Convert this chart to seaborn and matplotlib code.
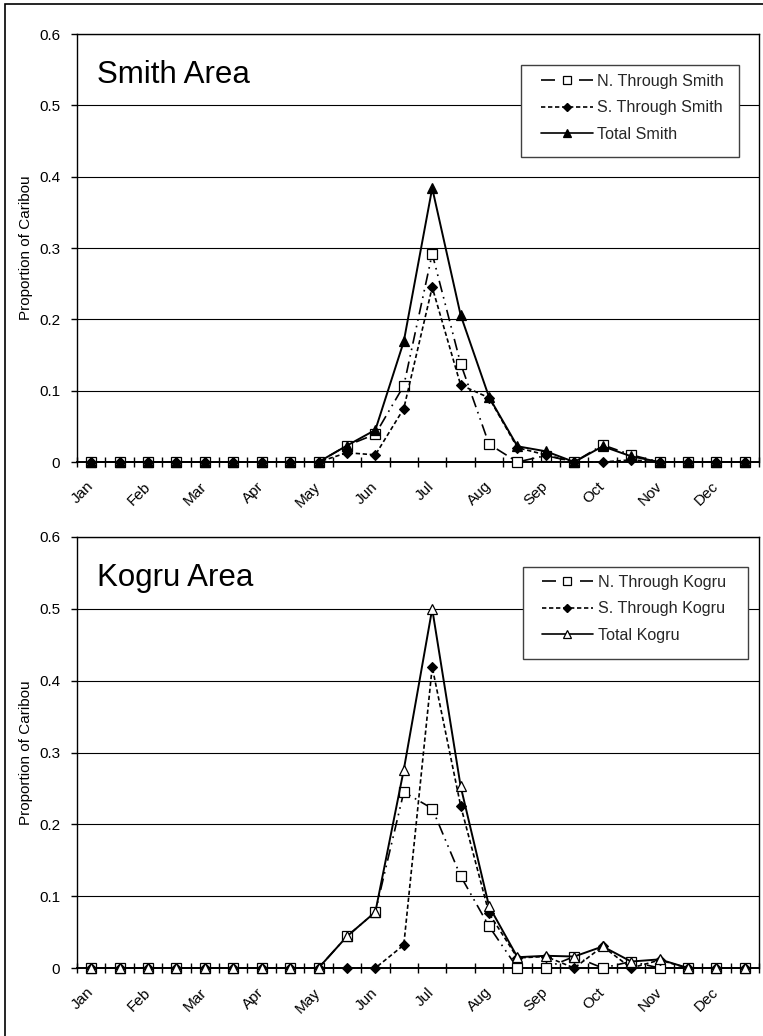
import numpy as np
import matplotlib
matplotlib.use("Agg")
import matplotlib.pyplot as plt
from matplotlib.lines import Line2D
from matplotlib.patches import Rectangle
import seaborn as sns

# ---------------- data ----------------
months = ['Jan', 'Feb', 'Mar', 'Apr', 'May', 'Jun', 'Jul', 'Aug', 'Sep', 'Oct', 'Nov', 'Dec']
periods = np.arange(24)  # half-month periods, Jan (1st half) .. Dec (2nd half)

smith_north = [0, 0, 0, 0, 0, 0, 0, 0, 0, 0.023, 0.039, 0.107, 0.292, 0.138, 0.025, 0,
               0.009, 0, 0.024, 0.010, 0, 0, 0, 0]
smith_south = [0, 0, 0, 0, 0, 0, 0, 0, 0, 0.013, 0.010, 0.075, 0.245, 0.108, 0.090, 0.020,
               0.010, 0, 0, 0.003, 0, 0, 0, 0]
smith_total = [0, 0, 0, 0, 0, 0, 0, 0, 0, 0.023, 0.045, 0.169, 0.384, 0.206, 0.091, 0.022,
               0.015, 0, 0.022, 0.008, 0, 0, 0, 0]

kogru_north = [0, 0, 0, 0, 0, 0, 0, 0, 0, 0.044, 0.078, 0.245, 0.222, 0.128, 0.058, 0,
               0, 0.016, 0, 0.009, 0, 0, 0, 0]
kogru_south = [0, 0, 0, 0, 0, 0, 0, 0, 0, 0, 0, 0.032, 0.419, 0.226, 0.076, 0.014,
               0.016, 0, 0.030, 0, 0.011, 0, 0, 0]
kogru_total = [0, 0, 0, 0, 0, 0, 0, 0, 0, 0.044, 0.078, 0.276, 0.500, 0.253, 0.086, 0.015,
               0.017, 0.016, 0.030, 0.009, 0.012, 0, 0, 0]

y_ticks = [0, 0.1, 0.2, 0.3, 0.4, 0.5, 0.6]
y_tick_labels = ['0', '0.1', '0.2', '0.3', '0.4', '0.5', '0.6']

# ---------------- style ----------------
sns.set_style("white")
plt.rcParams['font.family'] = ['Liberation Sans', 'DejaVu Sans']

W, H = 763, 1036
fig = plt.figure(figsize=(W / 100, H / 100), dpi=100)
fig.patch.set_facecolor('white')


def px_axes(left, top, right, bottom):
    return [left / W, 1 - bottom / H, (right - left) / W, (bottom - top) / H]


ax1 = fig.add_axes(px_axes(77, 34, 759, 462))
ax2 = fig.add_axes(px_axes(77, 537, 759, 968))

LW = 1.2
N_STYLE = (0, (7, 3, 1, 3, 1, 3))
S_STYLE = (0, (2.6, 1.6))


def draw(ax, north, south, total, names, total_face, title, box, anchor):
    sns.lineplot(x=periods, y=north, ax=ax, color='black', linewidth=LW,
                 linestyle=N_STYLE, marker='s', markersize=7,
                 markerfacecolor='white', markeredgecolor='black',
                 markeredgewidth=0.9, clip_on=False, zorder=3, errorbar=None)
    sns.lineplot(x=periods, y=south, ax=ax, color='black', linewidth=LW,
                 linestyle=S_STYLE, marker='D', markersize=5,
                 markerfacecolor='black', markeredgecolor='black',
                 markeredgewidth=0.8, clip_on=False, zorder=4, errorbar=None)
    sns.lineplot(x=periods, y=total, ax=ax, color='black', linewidth=LW + 0.2,
                 linestyle='-', marker='^', markersize=7.5,
                 markerfacecolor=total_face, markeredgecolor='black',
                 markeredgewidth=0.9, clip_on=False, zorder=5, errorbar=None)

    ax.set_xlim(-0.5, 23.5)
    ax.set_ylim(0, 0.6)
    ax.set_xlabel('')
    ax.set_ylabel('Proportion of Caribou', fontsize=11, color='black')
    ax.yaxis.set_label_coords(-0.064, 0.5)

    ax.set_xticks(periods[::2])
    ax.set_xticklabels(months, rotation=45, ha='right', va='center',
                       rotation_mode='anchor', fontsize=11)
    ax.set_xticks(np.arange(-0.5, 24, 1), minor=True)
    ax.tick_params(axis='x', which='major', length=0, pad=16, colors='black')
    ax.tick_params(axis='x', which='minor', length=7, width=1,
                   direction='inout', color='black', bottom=True)

    ax.set_yticks(y_ticks)
    ax.set_yticklabels(y_tick_labels, fontsize=11)
    ax.tick_params(axis='y', which='major', length=4, width=1, direction='out',
                   pad=8, colors='black', left=True)

    ax.yaxis.grid(True, color='black', linewidth=0.8)
    ax.xaxis.grid(False)
    ax.set_axisbelow(True)
    for sp in ax.spines.values():
        sp.set_color('black')
        sp.set_linewidth(1.0)
    ax.spines['bottom'].set_linewidth(1.4)

    ax.text(0.0293, 0.8855, title, transform=ax.transAxes, fontsize=22.5,
            ha='left', va='baseline', color='black')

    # legend box and entries
    ax.add_patch(Rectangle((box[0], box[1]), box[2], box[3], transform=ax.transAxes,
                           facecolor='white', edgecolor='#404040', linewidth=1.0,
                           zorder=6, clip_on=False))
    handles = [
        Line2D([], [], color='black', linewidth=LW, linestyle=(0, (8.4, 14.4)),
               marker='s', markersize=6, markerfacecolor='white',
               markeredgecolor='black', markeredgewidth=0.9),
        Line2D([], [], color='black', linewidth=LW, linestyle=S_STYLE,
               marker='D', markersize=4, markerfacecolor='black',
               markeredgecolor='black'),
        Line2D([], [], color='black', linewidth=LW, linestyle='-',
               marker='^', markersize=6, markerfacecolor=total_face,
               markeredgecolor='black', markeredgewidth=0.9),
    ]
    leg = ax.legend(handles, names, loc='upper left', bbox_to_anchor=anchor,
                    frameon=False, fontsize=11.6, handlelength=3.2,
                    handletextpad=0.3, labelspacing=0.7, borderpad=0,
                    borderaxespad=0)
    leg.set_zorder(7)


draw(ax1, smith_north, smith_south, smith_total,
     ['N. Through Smith', 'S. Through Smith', 'Total Smith'], 'black',
     'Smith Area', (0.651, 0.7126, 0.3197, 0.215), (0.6804, 0.9065))
draw(ax2, kogru_north, kogru_south, kogru_total,
     ['N. Through Kogru', 'S. Through Kogru', 'Total Kogru'], 'white',
     'Kogru Area', (0.654, 0.717, 0.330, 0.2135), (0.6814, 0.9118))

# outer frame of the figure
fig.add_artist(Rectangle((5 / W, -0.01), 1.1, 1 - 4 / H + 0.01,
                         transform=fig.transFigure, fill=False,
                         edgecolor='black', linewidth=1.2))

fig.savefig('out.png', dpi=100, facecolor='white')
